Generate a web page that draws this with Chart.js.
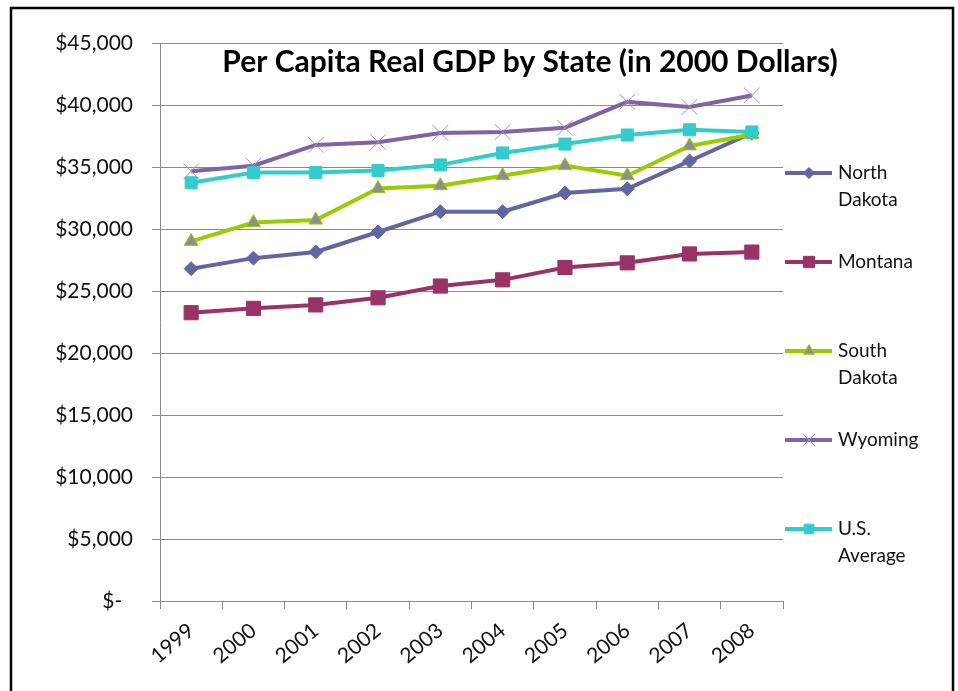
<!DOCTYPE html>
<html>
<head>
<meta charset="utf-8">
<script src="https://cdn.jsdelivr.net/npm/chart.js@4.4.1/dist/chart.umd.min.js"></script>
<style>
  html, body { margin: 0; padding: 0; background: #fff; }
  #wrap { position: relative; width: 958px; height: 691px; }
</style>
</head>
<body>
<div id="wrap"><canvas id="gdpChart"></canvas></div>
<script>
// data
const years = ['1999', '2000', '2001', '2002', '2003', '2004', '2005', '2006', '2007', '2008'];
const northDakota = [26800, 27650, 28150, 29760, 31400, 31400, 32900, 33240, 35480, 37750];
const montana     = [23250, 23600, 23880, 24450, 25400, 25900, 26900, 27270, 27990, 28140];
const southDakota = [29000, 30520, 30720, 33260, 33490, 34300, 35110, 34300, 36700, 37620];
const wyoming     = [34650, 35100, 36780, 37000, 37750, 37820, 38170, 40250, 39840, 40770];
const usAverage   = [33730, 34560, 34560, 34710, 35170, 36130, 36850, 37580, 38000, 37830];
const seriesLabels = [['North', 'Dakota'], ['Montana'], ['South', 'Dakota'], ['Wyoming'], ['U.S.', 'Average']];

const FONT = 'Lato, "Open Sans", sans-serif';

function series(i, data, color, style, extra) {
  return Object.assign({
    label: seriesLabels[i].join(' '),
    data: data,
    borderColor: color,
    backgroundColor: color,
    borderWidth: 4,
    pointStyle: style,
    pointBackgroundColor: color,
    pointBorderColor: color,
    pointBorderWidth: 1,
    pointRadius: 7,
    tension: 0,
    order: 4 - i
  }, extra || {});
}

/* title, side legend and frame drawn by hand */
const decorations = {
  id: 'decorations',
  afterDraw(chart) {
    const ctx = chart.ctx;
    ctx.save();
    ctx.fillStyle = '#000';
    ctx.font = 'bold 30px ' + FONT;
    ctx.textAlign = 'center';
    ctx.textBaseline = 'middle';
    ctx.fillText('Per Capita Real GDP by State (in 2000 Dollars)', 530, 62);

    chart.data.datasets.forEach((ds, i) => {
      const y = 173 + i * 89;
      ctx.strokeStyle = ds.borderColor;
      ctx.lineWidth = ds.borderWidth;
      ctx.beginPath();
      ctx.moveTo(785, y);
      ctx.lineTo(832, y);
      ctx.stroke();
      ctx.fillStyle = ds.pointBackgroundColor;
      ctx.strokeStyle = ds.pointBorderColor;
      ctx.lineWidth = ds.pointBorderWidth;
      Chart.helpers.drawPoint(ctx, {
        pointStyle: ds.pointStyle, radius: ds.pointRadius * 0.8, rotation: 0, borderWidth: ds.pointBorderWidth
      }, 809, y);
      ctx.fillStyle = '#111';
      ctx.font = '19px ' + FONT;
      ctx.textAlign = 'left';
      seriesLabels[i].forEach((line, k) => ctx.fillText(line, 838, y + k * 27));
    });

    ctx.strokeStyle = '#000';
    ctx.lineWidth = 2.5;
    ctx.strokeRect(11, 8, 942, 700);
    ctx.restore();
  }
};

new Chart(document.getElementById('gdpChart'), {
  type: 'line',
  data: {
    labels: years,
    datasets: [
      series(0, northDakota, '#62659f', 'rectRot', { pointRadius: 7 }),
      series(1, montana, '#993366', 'rect', { pointRadius: 10 }),
      series(2, southDakota, '#99cc00', 'triangle', { pointBackgroundColor: '#8e8e8e', pointRadius: 8 }),
      series(3, wyoming, '#8064a2', 'crossRot', { pointBorderColor: '#a08cc4', pointRadius: 11 }),
      series(4, usAverage, '#33cccc', 'rect', { pointRadius: 8.5 })
    ]
  },
  options: {
    responsive: true,
    maintainAspectRatio: false,
    animation: false,
    layout: { padding: { left: 0, top: 43, right: 175, bottom: 0 } },
    plugins: {
      legend: { display: false },
      tooltip: { enabled: false }
    },
    scales: {
      x: {
        offset: true,
        afterFit: s => { s.height = 90; },
        grid: { offset: true, drawOnChartArea: false, color: '#8a8a8a', tickLength: 8 },
        border: { color: '#8a8a8a' },
        ticks: {
          color: '#111',
          font: { family: FONT, size: 21 },
          minRotation: 40,
          maxRotation: 40,
          padding: 9
        }
      },
      y: {
        min: 0,
        max: 45000,
        afterFit: s => { s.width = 160; },
        grid: { color: '#8a8a8a', tickLength: 8 },
        border: { color: '#8a8a8a' },
        ticks: {
          stepSize: 5000,
          color: '#111',
          padding: 19,
          font: { family: FONT, size: 21 },
          callback: v => v === 0 ? '$-  ' : '$' + v.toLocaleString('en-US')
        }
      }
    }
  },
  plugins: [decorations]
});
</script>
</body>
</html>
